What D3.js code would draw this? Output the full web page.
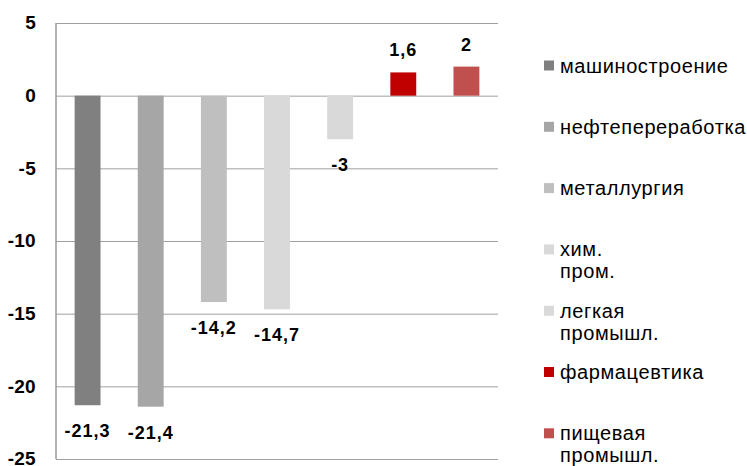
<!DOCTYPE html>
<html>
<head>
<meta charset="utf-8">
<script src="https://cdn.jsdelivr.net/npm/d3@7"></script>
<style>
    body { margin: 0; background: #fff; }
    text { font-family: "Liberation Sans", Arial, sans-serif; }
</style>
</head>
<body>
<svg id="my-svg"></svg>
<script>
const categories = ["машиностроение", "нефтепереработка", "металлургия", "хим. пром.", "легкая промышл.", "фармацевтика", "пищевая промышл."];
const legendLines = [["машиностроение"], ["нефтепереработка"], ["металлургия"], ["хим.", "пром."], ["легкая", "промышл."], ["фармацевтика"], ["пищевая", "промышл."]];
const values = [-21.3, -21.4, -14.2, -14.7, -3, 1.6, 2];
const colors = ["#808080", "#a6a6a6", "#bfbfbf", "#d9d9d9", "#d9d9d9", "#c00000", "#c0504d"];
const yTicks = [5, 0, -5, -10, -15, -20, -25];

const width = 747;
const height = 466;
const margin = { top: 23, right: 249, bottom: 7, left: 56 };
const innerWidth = width - margin.left - margin.right;
const innerHeight = height - margin.top - margin.bottom;

const svg = d3.select("#my-svg")
    .attr("width", width)
    .attr("height", height)
    .style("display", "block");

const g = svg.append("g")
    .attr("transform", `translate(${margin.left},${margin.top})`);

const x = d3.scaleBand()
    .domain(categories)
    .range([0, innerWidth])
    .paddingInner(0.59)
    .paddingOuter(0.295);

const y = d3.scaleLinear()
    .domain([-25, 5])
    .range([innerHeight, 0]);

// gridlines
g.append("g")
    .attr("class", "gridlines-y")
    .call(d3.axisLeft(y)
        .tickValues(yTicks)
        .tickSize(-innerWidth)
        .tickFormat("")
    )
    .call(a => a.select(".domain").remove())
    .selectAll("line")
    .style("stroke", "#a0a0a0")
    .style("stroke-width", 1);

// tick labels
g.append("g")
    .attr("class", "y-labels")
    .call(d3.axisLeft(y)
        .tickValues(yTicks)
        .tickSize(0)
        .tickPadding(20)
        .tickFormat(d => String(d))
    )
    .call(a => a.select(".domain").remove())
    .selectAll("text")
    .style("font-size", "19px")
    .style("font-weight", "bold")
    .style("letter-spacing", "0.3px")
    .style("fill", "#000")
    .attr("dy", "0.3em");

// left axis line
g.append("line")
    .attr("x1", 0).attr("x2", 0)
    .attr("y1", 0).attr("y2", innerHeight)
    .style("stroke", "#999")
    .style("stroke-width", 1.5);

// bars
g.selectAll("rect.bar")
    .data(values)
    .enter().append("rect")
    .attr("class", "bar")
    .attr("x", (d, i) => x(categories[i]))
    .attr("y", d => y(Math.max(0, d)))
    .attr("width", x.bandwidth())
    .attr("height", d => Math.abs(y(d) - y(0)))
    .attr("fill", (d, i) => colors[i]);

// value labels
g.selectAll("text.value")
    .data(values)
    .enter().append("text")
    .attr("class", "value")
    .attr("x", (d, i) => x(categories[i]) + x.bandwidth() / 2)
    .attr("y", d => d < 0 ? y(d) + 32 : y(d) - 16)
    .attr("text-anchor", "middle")
    .style("font-size", "18px")
    .style("font-weight", "bold")
    .style("letter-spacing", "1px")
    .style("fill", "#000")
    .text(d => String(d).replace(".", ","));

// legend
const legend = svg.append("g")
    .attr("class", "legend")
    .attr("transform", "translate(544,0)");

const legendItem = legend.selectAll("g")
    .data(categories)
    .enter().append("g")
    .attr("transform", (d, i) => `translate(0,${65.5 + 61.3 * i})`);

legendItem.append("rect")
    .attr("x", 0)
    .attr("y", -5)
    .attr("width", 10)
    .attr("height", 10)
    .attr("fill", (d, i) => colors[i]);

legendItem.append("text")
    .attr("x", 16)
    .attr("y", 7)
    .style("font-size", "20px")
    .style("letter-spacing", "0.6px")
    .style("fill", "#000")
    .selectAll("tspan")
    .data((d, i) => legendLines[i])
    .enter().append("tspan")
    .attr("x", 16)
    .attr("dy", (d, j) => j === 0 ? 0 : 22)
    .text(d => d);
</script>
</body>
</html>
